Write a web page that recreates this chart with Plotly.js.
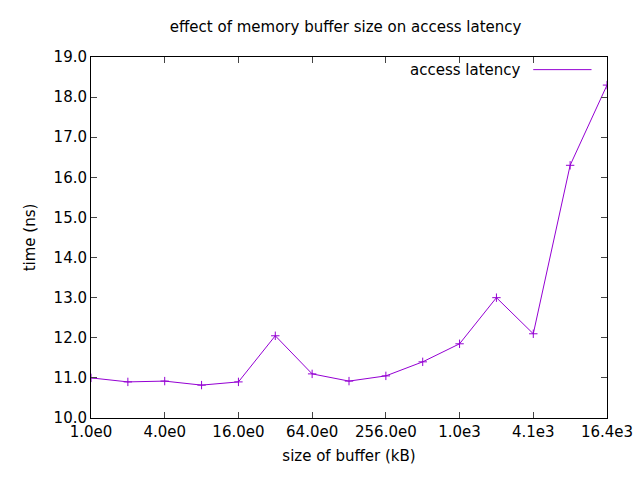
<!DOCTYPE html>
<html>
<head>
<script src="https://cdn.plot.ly/plotly-3.0.1.min.js"></script>
<style>body{margin:0}</style>
</head>
<body>
<div id="chart" style="width:640px;height:480px"></div>
<script>
const bufferSizes = [1, 2, 4, 8, 16, 32, 64, 128, 256, 512, 1024, 2048, 4096, 8192, 16384];
const latencies = [11.0, 10.9, 10.92, 10.82, 10.9, 12.05, 11.1, 10.92, 11.05, 11.4, 11.85, 13.0, 12.1, 16.3, 18.3];
const xTickVals = [1, 4, 16, 64, 256, 1024, 4096, 16384];
const xTickText = ["1.0e0", "4.0e0", "16.0e0", "64.0e0", "256.0e0", "1.0e3", "4.1e3", "16.4e3"];

const font = { family: "DejaVu Sans, Liberation Sans, sans-serif", size: 15, color: "#000" };

Plotly.newPlot(
  "chart",
  [
    {
      name: "access latency",
      x: bufferSizes,
      y: latencies,
      type: "scatter",
      mode: "lines+markers",
      line: { color: "#9400d3", width: 1 },
      marker: { symbol: "cross-thin", size: 6, line: { color: "#9400d3", width: 1 } },
      showlegend: false,
    },
  ],
  {
    width: 640,
    height: 480,
    margin: { l: 91, r: 33, t: 57, b: 62 },
    paper_bgcolor: "#fff",
    plot_bgcolor: "#fff",
    font: font,
    title: { text: "effect of memory buffer size on access latency", font: { size: 15 }, x: 0.54, y: 0.955 },
    xaxis: {
      type: "log",
      range: [0, Math.log10(16384)],
      tickvals: xTickVals,
      ticktext: xTickText,
      ticks: "inside",
      ticklen: 6,
      mirror: "ticks",
      showline: true,
      linecolor: "#000",
      showgrid: false,
      zeroline: false,
      title: { text: "size of buffer (kB)", standoff: 10, font: { size: 15 } },
    },
    yaxis: {
      range: [10, 19],
      dtick: 1,
      tickformat: ".1f",
      ticks: "inside",
      ticklen: 6,
      mirror: "ticks",
      showline: true,
      linecolor: "#000",
      showgrid: false,
      zeroline: false,
      title: { text: "time (ns)", standoff: 14, font: { size: 15 } },
    },
    annotations: [
      { xref: "paper", yref: "paper", x: 0.837, y: 0.965, xanchor: "right", yanchor: "middle", text: "access latency", showarrow: false },
    ],
    shapes: [
      { type: "line", xref: "paper", yref: "paper", x0: 0.857, x1: 0.97, y0: 0.965, y1: 0.965, line: { color: "#9400d3", width: 1 } },
    ],
  },
  { displayModeBar: false }
);
</script>
</body>
</html>
